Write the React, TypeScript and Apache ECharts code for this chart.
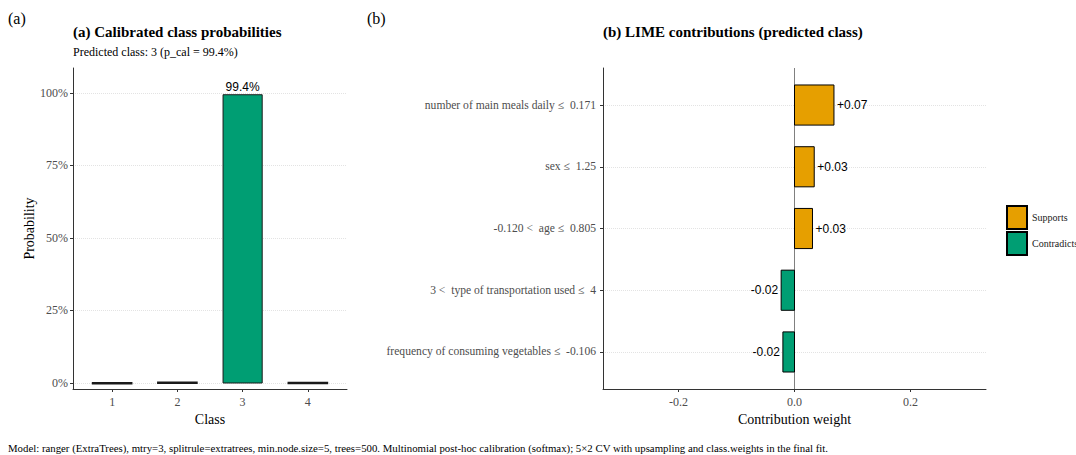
import React, { useEffect, useRef } from "react";
import * as echarts from "echarts";

const classes = [1, 2, 3, 4];
const probabilities = [0.001, 0.003, 0.994, 0.002];
const probTicks = [0, 0.25, 0.5, 0.75, 1];

const features = [
  "number of main meals daily \u2264  0.171",
  "sex \u2264  1.25",
  "-0.120 <  age \u2264  0.805",
  "3 <  type of transportation used \u2264  4",
  "frequency of consuming vegetables \u2264  -0.106",
];
const contributions = [0.068, 0.034, 0.031, -0.023, -0.02];
const weightTicks = [-0.2, 0, 0.2];

const SERIF = "'Liberation Serif', 'Times New Roman', serif";
const SANS = "'Liberation Sans', Arial, sans-serif";
const GREEN = "#009E73";
const ORANGE = "#E69F00";
const GREY_TXT = "#4d4d4d";
const AXIS = "#333333";

export default function App() {
  const ref = useRef<HTMLDivElement>(null);

  useEffect(() => {
    document.body.style.margin = "0";
    const chart = echarts.init(ref.current!, null, { renderer: "svg" });

    const predIdx = probabilities.indexOf(Math.max(...probabilities));
    const probData = classes.map((c, i) => [c, probabilities[i], i === predIdx ? 1 : 0]);

    const supportData: number[][] = [];
    const contraData: number[][] = [];
    contributions.forEach((v, i) => {
      if (v >= 0) supportData.push([v, i + 1]);
      else contraData.push([v, i + 1]);
    });

    const fmt = (v: number) => (v > 0 ? "+" : "") + v.toFixed(2);

    const limeRender = (color: string) => (params: any, api: any) => {
      const v = api.value(0);
      const y = api.value(1);
      const s = api.coord([0, y]);
      const e = api.coord([v, y]);
      const h = api.size([0, 0.65])[1];
      const x0 = Math.min(s[0], e[0]);
      const w = Math.abs(e[0] - s[0]);
      return {
        type: "group",
        children: [
          {
            type: "rect",
            shape: { x: x0, y: s[1] - h / 2, width: w, height: h },
            style: { fill: color, stroke: "#000", lineWidth: 1 },
          },
          {
            type: "text",
            x: v >= 0 ? e[0] + 3 : e[0] - 3,
            y: e[1],
            style: {
              text: fmt(v),
              fill: "#000",
              fontFamily: SANS,
              fontSize: 12,
              align: v >= 0 ? "left" : "right",
              verticalAlign: "middle",
            },
          },
        ],
      };
    };

    const axisLabelBase = { fontFamily: SERIF, fontSize: 12, color: GREY_TXT };
    const tickBase = { show: true, length: 3, lineStyle: { color: AXIS, width: 1 } };
    const lineBase = { show: true, onZero: false, lineStyle: { color: AXIS, width: 1 } };
    const gridLine = { show: true, lineStyle: { color: "#e3e3e3", type: "dotted", width: 1 } };

    chart.setOption({
      animation: false,
      grid: [
        { left: 73, top: 68, width: 274, height: 321 },
        { left: 603, top: 68, width: 383, height: 321 },
      ],
      xAxis: [
        {
          gridIndex: 0,
          type: "value",
          min: 0.4,
          max: 4.6,
          name: "Class",
          nameLocation: "middle",
          nameGap: 23,
          nameTextStyle: { fontFamily: SERIF, fontSize: 14, color: "#000" },
          axisLine: lineBase,
          axisTick: { ...tickBase, customValues: classes },
          axisLabel: { ...axisLabelBase, margin: 7, customValues: classes, formatter: (v: number) => String(v) },
          splitLine: { show: false },
        },
        {
          gridIndex: 1,
          type: "value",
          min: -0.33,
          max: 0.33,
          name: "Contribution weight",
          nameLocation: "middle",
          nameGap: 23,
          nameTextStyle: { fontFamily: SERIF, fontSize: 14, color: "#000" },
          axisLine: lineBase,
          axisTick: { ...tickBase, customValues: weightTicks },
          axisLabel: { ...axisLabelBase, margin: 7, customValues: weightTicks, formatter: (v: number) => v.toFixed(1) },
          splitLine: { show: false },
        },
      ],
      yAxis: [
        {
          gridIndex: 0,
          type: "value",
          min: -0.0207,
          max: 1.0862,
          name: "Probability",
          nameLocation: "middle",
          nameGap: 36,
          nameTextStyle: { fontFamily: SERIF, fontSize: 14, color: "#000" },
          axisLine: lineBase,
          axisTick: { ...tickBase, customValues: probTicks },
          axisLabel: {
            ...axisLabelBase,
            margin: 5,
            customValues: probTicks,
            formatter: (v: number) => Math.round(v * 100) + "%",
          },
          splitLine: gridLine,
        },
        {
          gridIndex: 1,
          type: "value",
          inverse: true,
          min: 0.4,
          max: 5.6,
          axisLine: lineBase,
          axisTick: { ...tickBase, customValues: [1, 2, 3, 4, 5] },
          axisLabel: {
            ...axisLabelBase,
            fontSize: 11.6,
            margin: 7,
            customValues: [1, 2, 3, 4, 5],
            formatter: (v: number) => features[Math.round(v) - 1] || "",
          },
          splitLine: gridLine,
        },
      ],
      legend: {
        data: ["Supports", "Contradicts"],
        orient: "vertical",
        left: 1001,
        top: 200,
        itemWidth: 20,
        itemHeight: 23,
        itemGap: 1,
        icon: "rect",
        textStyle: { fontFamily: SERIF, fontSize: 10, color: "#1a1a1a" },
        selectedMode: false,
      },
      series: [
        {
          type: "custom",
          name: "prob",
          xAxisIndex: 0,
          yAxisIndex: 0,
          data: probData,
          renderItem: (params: any, api: any) => {
            const x = api.value(0);
            const v = api.value(1);
            const pred = api.value(2) === 1;
            const b = api.coord([x, 0]);
            const t = api.coord([x, v]);
            const w = api.size([0.6, 0])[0];
            const children: any[] = [
              {
                type: "rect",
                shape: { x: b[0] - w / 2, y: t[1], width: w, height: Math.max(b[1] - t[1], 1) },
                style: { fill: pred ? GREEN : "#7f7f7f", stroke: "#1a1a1a", lineWidth: pred ? 1 : 1.5 },
              },
            ];
            if (pred) {
              children.push({
                type: "text",
                x: t[0],
                y: t[1] - 2,
                style: {
                  text: (v * 100).toFixed(1) + "%",
                  fill: "#000",
                  fontFamily: SANS,
                  fontSize: 12,
                  align: "center",
                  verticalAlign: "bottom",
                },
              });
            }
            return { type: "group", children };
          },
        },
        {
          type: "custom",
          name: "Supports",
          xAxisIndex: 1,
          yAxisIndex: 1,
          itemStyle: { color: ORANGE, borderColor: "#000", borderWidth: 1.2 },
          data: supportData,
          renderItem: limeRender(ORANGE),
          z: 3,
          markLine: {
            silent: true,
            symbol: "none",
            label: { show: false },
            lineStyle: { color: "#808080", width: 1, type: "solid" },
            data: [{ xAxis: 0 }],
            z: 1,
          },
        },
        {
          type: "custom",
          name: "Contradicts",
          xAxisIndex: 1,
          yAxisIndex: 1,
          itemStyle: { color: GREEN, borderColor: "#000", borderWidth: 1.2 },
          data: contraData,
          renderItem: limeRender(GREEN),
          z: 3,
        },
      ],
      graphic: [
        { type: "text", left: 8, top: 10, style: { text: "(a)", fontFamily: SERIF, fontSize: 16, fill: "#000" } },
        { type: "text", left: 367, top: 10, style: { text: "(b)", fontFamily: SERIF, fontSize: 16, fill: "#000" } },
        {
          type: "text",
          left: 73,
          top: 24,
          style: { text: "(a) Calibrated class probabilities", fontFamily: SERIF, fontSize: 15, fontWeight: "bold", fill: "#000" },
        },
        {
          type: "text",
          left: 73,
          top: 46,
          style: { text: "Predicted class: 3 (p_cal = 99.4%)", fontFamily: SERIF, fontSize: 12, fill: "#000" },
        },
        {
          type: "text",
          left: 603,
          top: 24,
          style: { text: "(b) LIME contributions (predicted class)", fontFamily: SERIF, fontSize: 15, fontWeight: "bold", fill: "#000" },
        },
        {
          type: "text",
          left: 8,
          top: 442,
          style: {
            text:
              "Model: ranger (ExtraTrees), mtry=3, splitrule=extratrees, min.node.size=5, trees=500. Multinomial post-hoc calibration (softmax); 5\u00d72 CV with upsampling and class.weights in the final fit.",
            fontFamily: SERIF,
            fontSize: 10.8,
            fill: "#000",
          },
        },
      ],
    });

    return () => chart.dispose();
  }, []);

  return <div ref={ref} style={{ position: "absolute", left: 0, top: 0, width: 1076, height: 455 }} />;
}
